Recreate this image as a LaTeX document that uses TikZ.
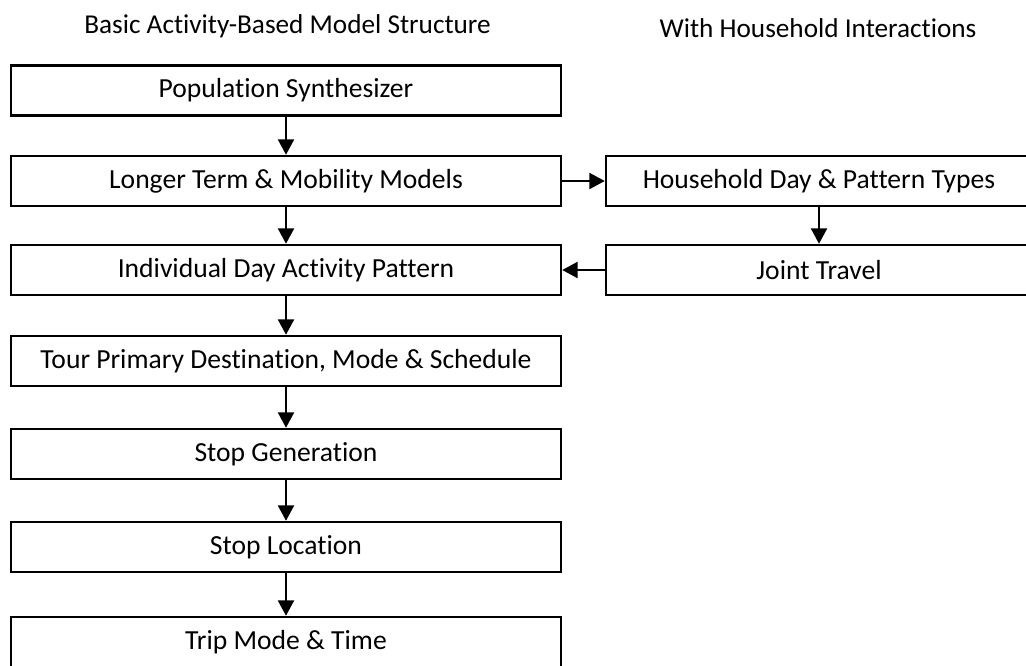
\documentclass[tikz,border=0pt]{standalone}
\usepackage{fontspec}
\setmainfont{Carlito}[Ligatures=NoCommon]
\usepackage{tikz}
\usetikzlibrary{arrows.meta}
\tikzset{stage/.style={draw, line width=1.4pt, minimum height=1cm, inner sep=0pt,
    font=\fontsize{15.7}{18}\selectfont},
  heading/.style={font=\fontsize{15.5}{18}\selectfont},
  flow/.style={line width=1.4pt, -{Triangle[length=3.1mm,width=3.2mm]}}}

\begin{document}
\begin{tikzpicture}
\useasboundingbox (0,0) rectangle (20.52,-13.3);

\node[heading] (lefttitle) at (5.75,-0.52) {Basic Activity-Based Model Structure};
\node[heading] (righttitle) at (16.36,-0.56) {With Household Interactions};

\foreach \n/\y/\t in {pop/1.81/Population Synthesizer,
    long/3.62/Longer Term \& Mobility Models,
    indiv/5.40/Individual Day Activity Pattern,
    tour/7.22/{Tour Primary Destination, Mode \& Schedule},
    stopgen/9.08/Stop Generation,
    stoploc/10.94/Stop Location,
    trip/12.84/Trip Mode \& Time}
  \node[stage, minimum width=11cm] (\n) at (5.72,-\y) {\t};

\node[stage, minimum width=8.52cm] (hh) at (16.38,-3.62) {Household Day \& Pattern Types};
\node[stage, minimum width=8.52cm] (joint) at (16.38,-5.40) {Joint Travel};

\foreach \a/\b in {pop/long,long/indiv,indiv/tour,tour/stopgen,stopgen/stoploc,stoploc/trip}
  \draw[flow] (\a) -- (\b);

\draw[flow] (long) -- (hh);
\draw[flow] (hh) -- (joint);
\draw[flow] (joint) -- (indiv);
\end{tikzpicture}
\end{document}
